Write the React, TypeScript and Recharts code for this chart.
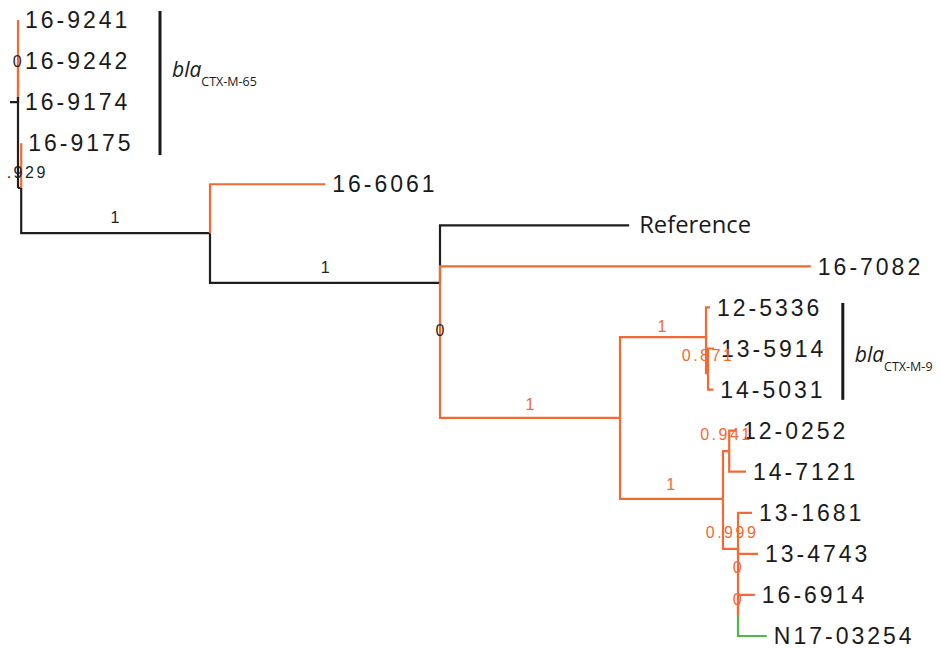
import React from 'react';
import { ComposedChart, Line, Scatter, XAxis, YAxis } from 'recharts';

// ---- Leaves (row = index, depth = cumulative branch length) ----
const leafNames = [
  '16-9241', '16-9242', '16-9174', '16-9175', '16-6061', 'Reference', '16-7082',
  '12-5336', '13-5914', '14-5031', '12-0252', '14-7121', '13-1681', '13-4743',
  '16-6914', 'N17-03254',
];
const leafDepth = [
  0, 0, -0.01, 0.004, 0.384, 0.764, 0.991,
  0.865, 0.87, 0.869, 0.8975, 0.91, 0.9175, 0.925,
  0.921, 0.936,
];
const leafParent = ['D', 'D', 'D', 'R', 'B', 'R2', 'R2', 'P', 'Q', 'Q', 'S', 'S', 'T', 'T', 'T2', 'T2'];
const leafLineage = ['a', 'a', 'o', 'a', 'a', 'o', 'a', 'a', 'a', 'a', 'a', 'a', 'a', 'a', 'a', 'n'];

// ---- Internal nodes ----
const nodeIds = ['R', 'C', 'D', 'B', 'R2', 'N', 'P', 'Q', 'M', 'S', 'T', 'T2'];
const nodeDepth = [0.004, 0, 0, 0.24, 0.5275, 0.7525, 0.86, 0.8625, 0.88125, 0.889, 0.9, 0.9];
const nodeRow = [4.09, 4.09, 1.87, 5.19, 6.4, 9.69, 7.72, 8.6, 11.66, 10.5, 12.88, 14.51];
const nodeParent = [null, 'R', 'C', 'R', 'B', 'R2', 'N', 'P', 'N', 'M', 'M', 'T'];
const nodeLineage = ['o', 'o', 'o', 'o', 'o', 'a', 'a', 'a', 'a', 'a', 'a', 'a'];

// ---- Support values ----
const supportText = ['.929', '0', '1', '1', '0', '1', '1', '0.871', '0.941', '1', '0.999', '0', '0'];
const supportDepth = [0.01, -0.001, 0.1213, 0.384, 0.5275, 0.64, 0.805, 0.861, 0.884, 0.816, 0.891, 0.899, 0.899];
const supportRow = [3.71, 1.0, 4.81, 6.01, 7.55, 9.35, 7.45, 8.16, 10.08, 11.3, 12.47, 13.32, 14.1];
const supportLineage = ['o', 'o', 'o', 'o', 'o', 'a', 'a', 'a', 'a', 'a', 'a', 'a', 'a'];

// ---- Clade brackets ----
const cladeNames = ['CTX-M-65', 'CTX-M-9'];
const cladeDepth = [0.1775, 1.031];
const cladeRowFrom = [-0.22, 6.89];
const cladeRowTo = [3.29, 9.25];
const cladeLabelRow = [1.39, 8.33];

const COLORS: Record<string, string> = { o: '#1f1f1f', a: '#F26A33', n: '#4DB848' };
const LINEAGE_ORDER: Record<string, number> = { o: 0, a: 1, n: 2 };

const pos: Record<string, { x: number; row: number }> = {};
nodeIds.forEach((id, i) => { pos[id] = { x: nodeDepth[i], row: nodeRow[i] }; });

type Edge = { key: string; lineage: string; pts: { x: number; y: number }[] };
const edges: Edge[] = [];
nodeIds.forEach((id, i) => {
  const p = nodeParent[i];
  if (!p) return;
  const pp = pos[p];
  edges.push({
    key: 'n-' + id,
    lineage: nodeLineage[i],
    pts: [
      { x: pp.x, y: pp.row },
      { x: pp.x, y: nodeRow[i] },
      { x: nodeDepth[i], y: nodeRow[i] },
    ],
  });
});
leafNames.forEach((name, i) => {
  const pp = pos[leafParent[i]];
  edges.push({
    key: 'l-' + name,
    lineage: leafLineage[i],
    pts: [
      { x: pp.x, y: pp.row },
      { x: pp.x, y: i },
      { x: leafDepth[i], y: i },
    ],
  });
});
edges.sort((a, b) => LINEAGE_ORDER[a.lineage] - LINEAGE_ORDER[b.lineage]);

const leafLabelData = leafNames.map((name, i) => ({
  x: Math.max(leafDepth[i], pos[leafParent[i]].x),
  y: i,
  name,
}));

const supportData = supportText.map((t, i) => ({
  x: supportDepth[i],
  y: supportRow[i],
  text: t,
  lineage: supportLineage[i],
}));

const cladeLabelData = cladeNames.map((n, i) => ({ x: cladeDepth[i], y: cladeLabelRow[i], name: n }));

const LeafLabel = (props: any) => {
  const { cx, cy, payload } = props;
  if (cx == null || cy == null) return null;
  if (payload.name === 'Reference') {
    return (
      <text x={cx + 10} y={cy + 8} fontFamily="'Open Sans', sans-serif" fontSize={23.8} fill="#1a1a1a">
        {payload.name}
      </text>
    );
  }
  return (
    <text
      x={cx + 7}
      y={cy + 8.2}
      fontFamily="'Liberation Sans', Arial, sans-serif"
      fontSize={23}
      letterSpacing={3}
      fill="#1a1a1a"
    >
      {payload.name}
    </text>
  );
};

const SupportLabel = (props: any) => {
  const { cx, cy, payload } = props;
  if (cx == null || cy == null) return null;
  return (
    <text
      x={cx + 1.25}
      y={cy + 5.7}
      textAnchor="middle"
      fontFamily="'Liberation Sans', Arial, sans-serif"
      fontSize={16}
      letterSpacing={2.5}
      fill={COLORS[payload.lineage]}
    >
      {payload.text}
    </text>
  );
};

const CladeLabel = (props: any) => {
  const { cx, cy, payload } = props;
  if (cx == null || cy == null) return null;
  return (
    <text x={cx + 12} y={cy} fontFamily="'Open Sans', sans-serif" fill="#1a1a1a">
      <tspan fontStyle="italic" fontSize={21}>bla</tspan>
      <tspan fontSize={12.5} dy={8.5}>{payload.name}</tspan>
    </text>
  );
};

export default function App() {
  return (
    <div style={{ position: 'absolute', left: 0, top: 0, width: 940, height: 649, background: '#ffffff' }}>
      <ComposedChart width={940} height={649} margin={{ top: 0, right: 0, bottom: 0, left: 0 }}>
        <XAxis type="number" dataKey="x" domain={[-0.0225, 1.1525]} hide allowDataOverflow />
        <YAxis type="number" dataKey="y" domain={[-0.487, 15.317]} reversed hide allowDataOverflow />
        {edges.map((e) => (
          <Line
            key={e.key}
            data={e.pts}
            dataKey="y"
            type="linear"
            stroke={COLORS[e.lineage]}
            strokeWidth={2.2}
            dot={false}
            activeDot={false}
            isAnimationActive={false}
            legendType="none"
          />
        ))}
        {cladeNames.map((n, i) => (
          <Line
            key={'clade-' + n}
            data={[
              { x: cladeDepth[i], y: cladeRowFrom[i] },
              { x: cladeDepth[i], y: cladeRowTo[i] },
            ]}
            dataKey="y"
            type="linear"
            stroke="#1a1a1a"
            strokeWidth={3}
            dot={false}
            activeDot={false}
            isAnimationActive={false}
            legendType="none"
          />
        ))}
        <Scatter data={leafLabelData} dataKey="y" shape={LeafLabel} isAnimationActive={false} legendType="none" />
        <Scatter data={supportData} dataKey="y" shape={SupportLabel} isAnimationActive={false} legendType="none" />
        <Scatter data={cladeLabelData} dataKey="y" shape={CladeLabel} isAnimationActive={false} legendType="none" />
      </ComposedChart>
    </div>
  );
}
